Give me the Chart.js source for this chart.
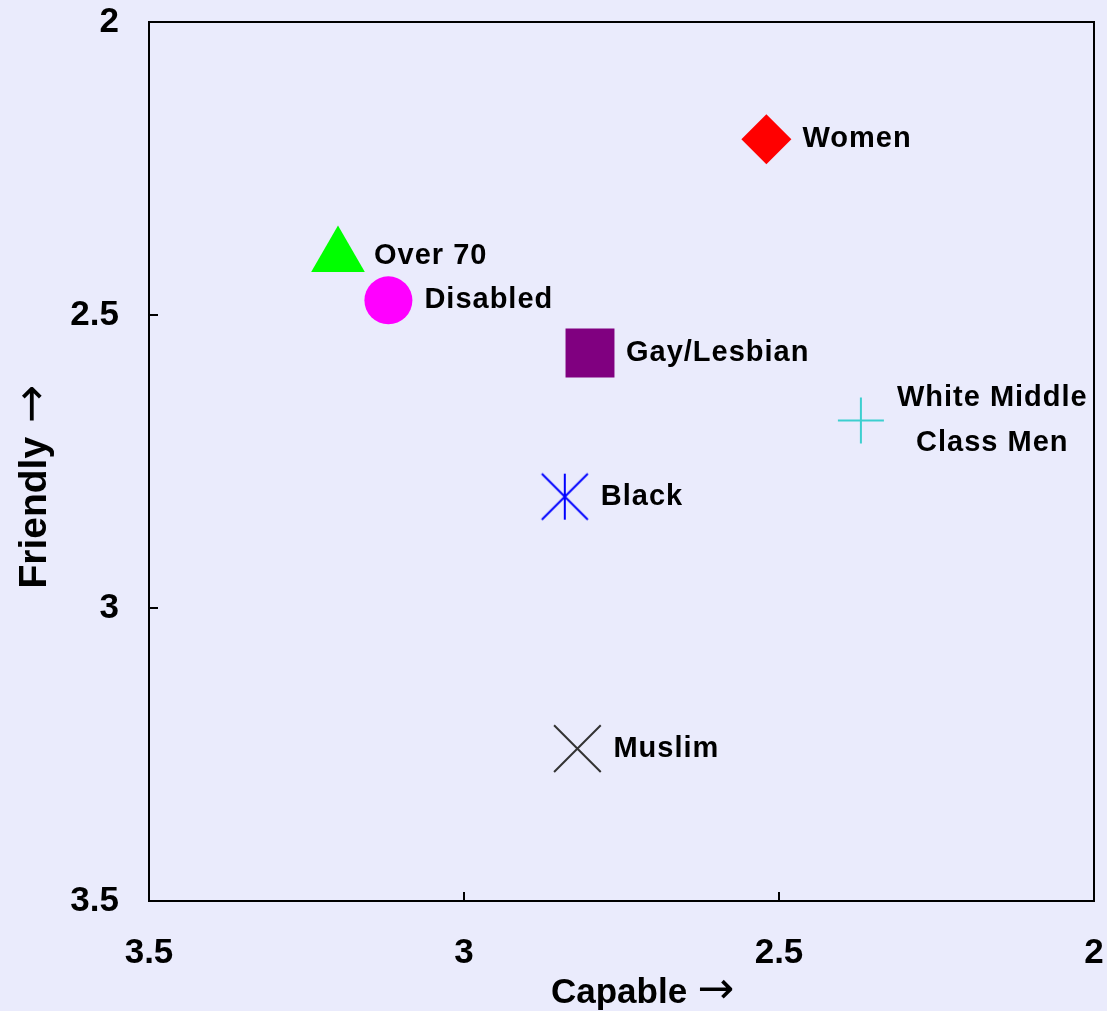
<!DOCTYPE html>
<html>
<head>
<meta charset="utf-8">
<script src="https://cdn.jsdelivr.net/npm/chart.js@4.4.0/dist/chart.umd.min.js"></script>
<style>
  html, body { margin: 0; padding: 0; background: #EAEBFC; }
  canvas { display: block; }
</style>
</head>
<body>
<canvas id="scatterChart-groups" width="1107" height="1011"></canvas>
<script>
// values
const groups = ['Women', 'Over 70', 'Disabled', 'Gay/Lesbian', ['White Middle', 'Class Men'], 'Black', 'Muslim'];
const capable = [2.52, 3.2, 3.12, 2.8, 2.37, 2.84, 2.82];
const friendly = [2.2, 2.4, 2.475, 2.565, 2.68, 2.81, 3.24];
const tickValues = [2, 2.5, 3, 3.5];

const FONT = "'Liberation Sans', Arial, sans-serif";

// asterisk without the horizontal bar (Black)
function asteriskMarker(color, half) {
    let c = document.createElement('canvas');
    let size = half * 2 + 4;
    c.width = size;
    c.height = size;
    let g = c.getContext('2d');
    let m = size / 2;
    g.strokeStyle = color;
    g.lineWidth = 2;
    g.beginPath();
    g.moveTo(m, m - half); g.lineTo(m, m + half);
    g.moveTo(m - half, m - half); g.lineTo(m + half, m + half);
    g.moveTo(m + half, m - half); g.lineTo(m - half, m + half);
    g.stroke();
    return c;
}

// marker look, one per group
let pointStyles = ['rectRot', 'triangle', 'circle', 'rect', 'cross', asteriskMarker('#0000FF', 23), 'crossRot'];
let pointRadii = [25, 31, 24, 34.6, 23, 23, 33];
let fills = ['#FF0000', '#00FF00', '#FF00FF', '#800080', '#3CCFCF', '#0000FF', '#333333'];
let strokes = ['#FF0000', '#00FF00', '#FF00FF', '#800080', '#3CCFCF', '#0000FF', '#333333'];
let strokeWidths = [0, 0, 0, 0, 2, 2, 2];

let pts = capable.map((x, i) => ({x: x, y: friendly[i]}));

// background, frame and inner ticks
let framePlugin = {
    id: 'frame',
    beforeDraw(chart) {
        let c = chart.ctx;
        c.save();
        c.fillStyle = '#EAEBFC';
        c.fillRect(0, 0, chart.width, chart.height);
        c.restore();
    },
    afterDraw(chart) {
        let c = chart.ctx;
        let a = chart.chartArea;
        let xs = chart.scales.x, ys = chart.scales.y;
        c.save();
        c.strokeStyle = '#000';
        c.lineWidth = 2;
        c.strokeRect(a.left, a.top, a.right - a.left, a.bottom - a.top);
        c.beginPath();
        tickValues.forEach(v => {
            let py = ys.getPixelForValue(v);
            c.moveTo(a.left, py); c.lineTo(a.left + 9, py);
            let px = xs.getPixelForValue(v);
            c.moveTo(px, a.bottom); c.lineTo(px, a.bottom - 9);
        });
        c.stroke();

        // axis titles, thin arrow after bold word
        c.fillStyle = '#000';
        c.textBaseline = 'alphabetic';
        let drawTitle = (text, size, arrowSize, gap) => {
            c.font = 'bold ' + size + 'px ' + FONT;
            let w1 = c.measureText(text).width + gap;
            c.font = arrowSize + "px 'DejaVu Sans', sans-serif";
            let w2 = c.measureText('→').width;
            let start = -(w1 + w2) / 2;
            c.textAlign = 'left';
            c.font = 'bold ' + size + 'px ' + FONT;
            c.fillText(text, start, 0);
            c.font = arrowSize + "px 'DejaVu Sans', sans-serif";
            c.fillText('→', start + w1, 0);
        };
        c.save();
        c.translate((a.left + a.right) / 2 + 21, 1003);
        drawTitle('Capable', 35, 44, 10);
        c.restore();
        c.save();
        c.translate(46, (a.top + a.bottom) / 2 + 25);
        c.rotate(-Math.PI / 2);
        drawTitle('Friendly', 39, 46, 14);
        c.restore();
        c.restore();
    }
};

// text next to each marker
let labelPlugin = {
    id: 'pointLabels',
    afterDatasetsDraw(chart) {
        let c = chart.ctx;
        let meta = chart.getDatasetMeta(0);
        c.save();
        c.font = 'bold 29px ' + FONT;
        c.letterSpacing = '1px';
        c.fillStyle = '#000';
        c.textBaseline = 'middle';
        meta.data.forEach((el, i) => {
            let lines = Array.isArray(groups[i]) ? groups[i] : [groups[i]];
            let left = el.x + 36;
            let maxW = Math.max(...lines.map(l => c.measureText(l).width));
            let lh = 45;
            lines.forEach((l, j) => {
                let ly = el.y + (j - (lines.length - 1) / 2) * lh;
                if (lines.length > 1) {
                    c.textAlign = 'center';
                    c.fillText(l, left + maxW / 2, ly);
                } else {
                    c.textAlign = 'left';
                    c.fillText(l, left, ly);
                }
            });
        });
        c.restore();
    }
};

let scatterCtx_groups = document.getElementById('scatterChart-groups');
let scatterConfig_groups = {
    type: 'scatter',
    data: {
        datasets: [{
            label: 'groups',
            data: pts,
            pointStyle: pointStyles,
            pointRadius: pointRadii,
            pointHoverRadius: pointRadii,
            backgroundColor: fills,
            borderColor: strokes,
            borderWidth: strokeWidths,
        }]
    },
    options: {
        responsive: false,
        animation: false,
        events: [],
        layout: { autoPadding: false, padding: { top: 22, right: 13, left: 0, bottom: 0 } },
        plugins: { legend: { display: false }, tooltip: { enabled: false } },
        scales: {
            x: {
                type: 'linear',
                min: 2, max: 3.5,
                reverse: true,
                grid: { display: false, drawTicks: false },
                border: { display: false },
                afterBuildTicks: s => { s.ticks = tickValues.map(v => ({value: v})); },
                afterFit: s => { s.height = 110; s.paddingLeft = 0; s.paddingRight = 0; },
                ticks: {
                    padding: 31,
                    color: '#000',
                    maxRotation: 0,
                    font: { family: FONT, size: 35, weight: 'bold' },
                    callback: v => String(v)
                }
            },
            y: {
                type: 'linear',
                min: 2, max: 3.5,
                reverse: true,
                grid: { display: false, drawTicks: false },
                border: { display: false },
                afterBuildTicks: s => { s.ticks = tickValues.map(v => ({value: v})); },
                afterFit: s => { s.width = 149; s.paddingTop = 0; s.paddingBottom = 0; },
                ticks: {
                    padding: 30,
                    color: '#000',
                    font: { family: FONT, size: 35, weight: 'bold' },
                    callback: v => String(v)
                }
            }
        }
    },
    plugins: [framePlugin, labelPlugin]
};
let scatterChart_groups = new Chart(scatterCtx_groups, scatterConfig_groups);
</script>
</body>
</html>
